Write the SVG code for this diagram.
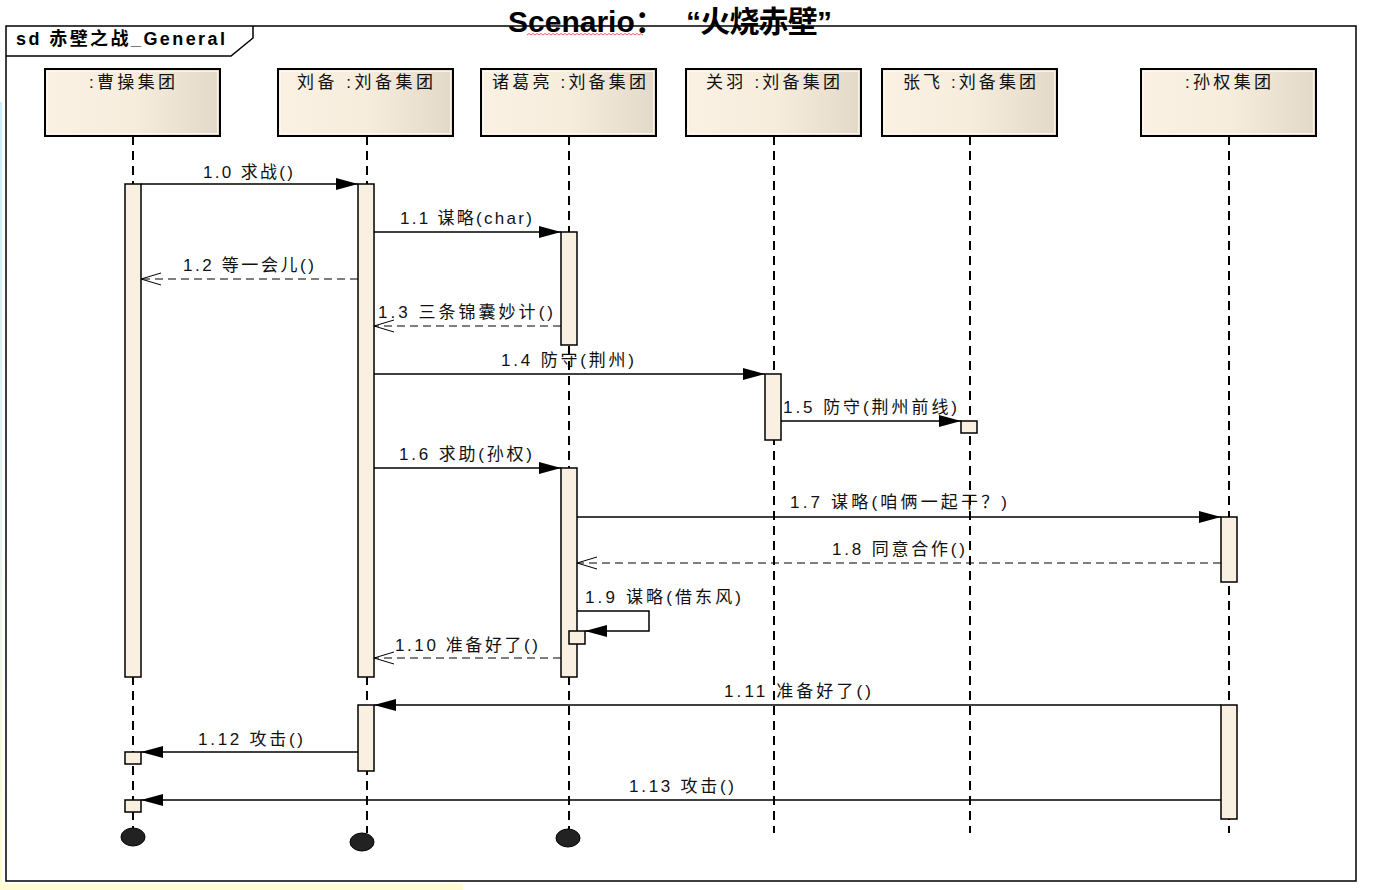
<svg xmlns="http://www.w3.org/2000/svg" width="1377" height="890" viewBox="0 0 1377 890">
  <style>
    .frame { fill: #ffffff; stroke: #000; stroke-width: 1.5; }
    .head { fill: url(#headFill); stroke: #000; stroke-width: 2; }
    .head-inner { fill: none; stroke: #fffaf2; stroke-width: 1; opacity: 0.8; }
    .life { stroke: #000; stroke-width: 2; stroke-dasharray: 9 6; fill: none; }
    .act { fill: #faf0e2; stroke: #000; stroke-width: 1.5; }
    .end { fill: #222; stroke: #000; stroke-width: 1; }
    .msg { fill: none; stroke: #000; stroke-width: 1.5; marker-end: url(#solidHead); }
    .ret { fill: none; stroke: #000; stroke-width: 1.2; stroke-dasharray: 8 5; marker-end: url(#openHead); }
    .lbl { font-family: "Liberation Sans", "Noto Sans CJK SC", sans-serif; font-size: 17px; fill: #111; }
    .name { font-family: "Liberation Sans", "Noto Sans CJK SC", sans-serif; font-size: 17px; fill: #111; }
    .tab { font-family: "Liberation Sans", "Noto Sans CJK SC", sans-serif; font-size: 18px; font-weight: bold; fill: #000; }
    .title { font-family: "Liberation Sans", "Noto Sans CJK SC", sans-serif; font-size: 30px; font-weight: bold; fill: #000; }
  </style>
  <defs>
    <linearGradient id="headFill" x1="0" y1="0" x2="1" y2="0">
      <stop offset="0" stop-color="#faf1e3"/>
      <stop offset="0.5" stop-color="#f7eddd"/>
      <stop offset="1" stop-color="#e2d9c9"/>
    </linearGradient>
    <linearGradient id="edgeFill" x1="0" y1="0" x2="0" y2="1">
      <stop offset="0" stop-color="#c9eefc"/>
      <stop offset="0.55" stop-color="#e6f4ef"/>
      <stop offset="1" stop-color="#fffdcc"/>
    </linearGradient>
    <marker id="solidHead" markerUnits="userSpaceOnUse" markerWidth="22" markerHeight="12" refX="22" refY="6" orient="auto" overflow="visible">
      <path d="M0,0 L22,6 L0,12 Z" fill="#000" stroke="none"/>
    </marker>
    <marker id="openHead" markerUnits="userSpaceOnUse" markerWidth="22" markerHeight="14" refX="20" refY="7" orient="auto" overflow="visible">
      <path d="M0,1 L20,7 L0,13" fill="none" stroke="#000" stroke-width="1" stroke-dasharray="none"/>
    </marker>
  </defs>

  <!-- page edge tint -->
  <rect x="0" y="102" width="2" height="783" fill="url(#edgeFill)"/>
  <rect x="0" y="884" width="463" height="6" fill="#fffdd0"/>

  <!-- diagram frame with name tab -->
  <g id="frame">
    <rect class="frame" x="6" y="26" width="1350" height="855"/>
    <path d="M6,56 H231 L253,38 V26" fill="none" stroke="#000" stroke-width="1.5"/>
    <text class="tab" x="16" y="45" textLength="209" lengthAdjust="spacing">sd 赤壁之战_General</text>
  </g>

  <!-- heading -->
  <g id="title">
    <path d="M527,35 l2,-1.5 l2,1.5 l2,-1.5 l2,1.5 l2,-1.5 l2,1.5 l2,-1.5 l2,1.5 l2,-1.5 l2,1.5 l2,-1.5 l2,1.5 l2,-1.5 l2,1.5 l2,-1.5 l2,1.5 l2,-1.5 l2,1.5 l2,-1.5 l2,1.5 l2,-1.5 l2,1.5 l2,-1.5 l2,1.5 l2,-1.5 l2,1.5 l2,-1.5 l2,1.5 l2,-1.5 l2,1.5 l2,-1.5 l2,1.5 l2,-1.5 l2,1.5 l2,-1.5 l2,1.5 l2,-1.5 l2,1.5 l2,-1.5 l2,1.5 l2,-1.5 l2,1.5 l2,-1.5 l2,1.5 l2,-1.5 l2,1.5 l2,-1.5 l2,1.5 l2,-1.5 l2,1.5 l2,-1.5 l2,1.5 l2,-1.5 l2,1.5 l2,-1.5 l2,1.5 l2,-1.5 l2,1.5" fill="none" stroke="#e05050" stroke-width="0.9"/>
    <text class="title" x="508" y="32">Scenario：</text>
    <text class="title" x="686" y="32" textLength="146" lengthAdjust="spacing">“火烧赤壁”</text>
  </g>

  <!-- lifelines -->
  <g id="lifelines">
    <line class="life" x1="133" y1="136" x2="133" y2="828"/>
    <line class="life" x1="367" y1="136" x2="367" y2="833"/>
    <line class="life" x1="569" y1="136" x2="569" y2="829"/>
    <line class="life" x1="774" y1="136" x2="774" y2="833"/>
    <line class="life" x1="970" y1="136" x2="970" y2="833"/>
    <line class="life" x1="1229" y1="136" x2="1229" y2="833"/>
  </g>

  <!-- participants -->
  <g id="caocao">
    <rect class="head" x="45" y="69" width="175" height="67"/>
    <rect class="head-inner" x="47.5" y="71.5" width="170" height="62"/>
    <text class="name" x="89" y="88" textLength="86" lengthAdjust="spacing">:曹操集团</text>
    <rect class="act" x="125" y="184" width="16" height="493"/>
    <rect class="act" x="125" y="752" width="16" height="12"/>
    <rect class="act" x="125" y="800" width="16" height="12"/>
    <ellipse class="end" cx="133" cy="837" rx="12" ry="9"/>
  </g>
  <g id="liubei">
    <rect class="head" x="278" y="69" width="175" height="67"/>
    <rect class="head-inner" x="280.5" y="71.5" width="170" height="62"/>
    <text class="name" x="297" y="88" textLength="136" lengthAdjust="spacing">刘备 :刘备集团</text>
    <rect class="act" x="358" y="184" width="16" height="493"/>
    <rect class="act" x="358" y="705" width="16" height="66"/>
    <ellipse class="end" cx="362" cy="842" rx="12" ry="9"/>
  </g>
  <g id="zhugeliang">
    <rect class="head" x="481" y="69" width="175" height="67"/>
    <rect class="head-inner" x="483.5" y="71.5" width="170" height="62"/>
    <text class="name" x="492" y="88" textLength="154" lengthAdjust="spacing">诸葛亮 :刘备集团</text>
    <rect class="act" x="561" y="232" width="16" height="113"/>
    <rect class="act" x="561" y="468" width="16" height="209"/>
    <rect class="act" x="569" y="631" width="16" height="13"/>
    <ellipse class="end" cx="568" cy="838" rx="12" ry="9"/>
  </g>
  <g id="guanyu">
    <rect class="head" x="686" y="69" width="175" height="67"/>
    <rect class="head-inner" x="688.5" y="71.5" width="170" height="62"/>
    <text class="name" x="706" y="88" textLength="134" lengthAdjust="spacing">关羽 :刘备集团</text>
    <rect class="act" x="765" y="374" width="16" height="66"/>
  </g>
  <g id="zhangfei">
    <rect class="head" x="882" y="69" width="175" height="67"/>
    <rect class="head-inner" x="884.5" y="71.5" width="170" height="62"/>
    <text class="name" x="903" y="88" textLength="133" lengthAdjust="spacing">张飞 :刘备集团</text>
    <rect class="act" x="961" y="421" width="16" height="12"/>
  </g>
  <g id="sunquan">
    <rect class="head" x="1141" y="69" width="175" height="67"/>
    <rect class="head-inner" x="1143.5" y="71.5" width="170" height="62"/>
    <text class="name" x="1185" y="88" textLength="86" lengthAdjust="spacing">:孙权集团</text>
    <rect class="act" x="1221" y="517" width="16" height="65"/>
    <rect class="act" x="1221" y="705" width="16" height="114"/>
  </g>

  <!-- messages -->
  <g id="connectors">
    <path class="msg" d="M141,184 H358"/>
    <text class="lbl" x="203" y="178" textLength="90" lengthAdjust="spacing">1.0 求战()</text>

    <path class="msg" d="M374,232 H561"/>
    <text class="lbl" x="400" y="224" textLength="132" lengthAdjust="spacing">1.1 谋略(char)</text>

    <path class="ret" d="M358,279 H141"/>
    <text class="lbl" x="183" y="271" textLength="131" lengthAdjust="spacing">1.2 等一会儿()</text>

    <path class="ret" d="M561,326 H374"/>
    <text class="lbl" x="378" y="318" textLength="175" lengthAdjust="spacing">1.3 三条锦囊妙计()</text>

    <path class="msg" d="M374,374 H765"/>
    <text class="lbl" x="501" y="366" textLength="133" lengthAdjust="spacing">1.4 防守(荆州)</text>

    <path class="msg" d="M781,421 H961"/>
    <text class="lbl" x="783" y="413" textLength="174" lengthAdjust="spacing">1.5 防守(荆州前线)</text>

    <path class="msg" d="M374,468 H561"/>
    <text class="lbl" x="399" y="460" textLength="133" lengthAdjust="spacing">1.6 求助(孙权)</text>

    <path class="msg" d="M577,517 H1221"/>
    <text class="lbl" x="790" y="508" textLength="217" lengthAdjust="spacing">1.7 谋略(咱俩一起干？)</text>

    <path class="ret" d="M1221,563 H577"/>
    <text class="lbl" x="832" y="555" textLength="133" lengthAdjust="spacing">1.8 同意合作()</text>

    <path class="msg" d="M577,611 H649 V631 H585"/>
    <text class="lbl" x="585" y="603" textLength="156" lengthAdjust="spacing">1.9 谋略(借东风)</text>

    <path class="ret" d="M561,658 H374"/>
    <text class="lbl" x="395" y="651" textLength="143" lengthAdjust="spacing">1.10 准备好了()</text>

    <path class="msg" d="M1221,705 H374"/>
    <text class="lbl" x="724" y="697" textLength="147" lengthAdjust="spacing">1.11 准备好了()</text>

    <path class="msg" d="M358,752 H141"/>
    <text class="lbl" x="198" y="745" textLength="105" lengthAdjust="spacing">1.12 攻击()</text>

    <path class="msg" d="M1221,800 H141"/>
    <text class="lbl" x="629" y="792" textLength="105" lengthAdjust="spacing">1.13 攻击()</text>
  </g>
</svg>
